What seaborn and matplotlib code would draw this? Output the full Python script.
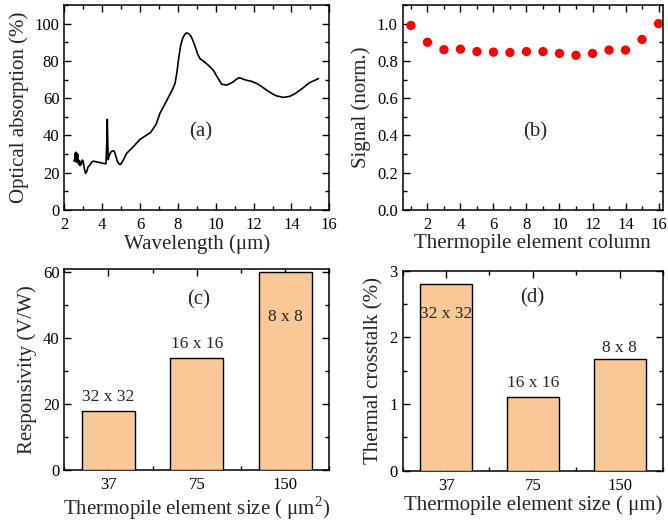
import numpy as np
import pandas as pd
import matplotlib
matplotlib.use("Agg")
import matplotlib.pyplot as plt
import seaborn as sns
from matplotlib.ticker import MultipleLocator

# ---------------- data ----------------
wavelength = [2.51, 2.55, 2.58, 2.6, 2.63, 2.65, 2.68, 2.7, 2.73, 2.76, 2.8, 2.83, 2.87, 2.9,
              2.95, 3.0, 3.06, 3.12, 3.18, 3.25, 3.36, 3.45, 3.53, 3.7, 3.9, 4.05, 4.2, 4.24,
              4.27, 4.29, 4.32, 4.36, 4.45, 4.55, 4.64, 4.72, 4.8, 4.9, 4.97, 5.1, 5.29, 5.6,
              6.0, 6.35, 6.55, 6.7, 6.85, 7.05, 7.4, 7.76, 7.85, 7.95, 8.05, 8.15, 8.25, 8.35,
              8.45, 8.55, 8.65, 8.75, 8.9, 9.05, 9.17, 9.4, 9.6, 9.87, 10.1, 10.31, 10.57,
              10.75, 10.93, 11.1, 11.24, 11.4, 11.63, 11.9, 12.16, 12.4, 12.69, 13.0, 13.2,
              13.57, 13.92, 14.2, 14.45, 14.7, 14.89, 15.1, 15.25, 15.42]
absorption = [26.2, 27.5, 30.5, 26.0, 31.0, 29.5, 25.5, 30.0, 27.0, 24.5, 26.5, 23.8, 25.5, 24.5,
              26.8, 26.0, 22.0, 19.6, 20.5, 23.0, 24.2, 25.8, 26.2, 25.8, 25.4, 25.0, 24.8, 35.0,
              48.6, 38.0, 27.0, 29.0, 31.0, 31.8, 31.5, 29.0, 26.0, 24.6, 24.4, 26.5, 30.4, 33.5,
              37.9, 40.2, 41.5, 43.7, 46.0, 51.8, 58.5, 65.7, 68.0, 74.0, 82.0, 88.5, 92.0, 94.0,
              95.0, 94.7, 93.8, 92.0, 88.0, 83.5, 81.2, 79.5, 77.7, 75.0, 71.0, 67.5, 67.0,
              67.8, 68.75, 70.2, 71.0, 70.4, 69.6, 69.0, 67.9, 66.4, 64.3, 62.3, 61.25,
              60.4, 61.0, 62.5, 64.3, 66.2, 67.9, 69.0, 69.6, 70.5]

columns = list(range(1, 17))
signal = [0.99, 0.90, 0.86, 0.863, 0.85, 0.847, 0.845, 0.85, 0.85, 0.84, 0.83, 0.84,
          0.858, 0.858, 0.915, 1.0]

sizes = ["37", "75", "150"]
responsivity = [18, 34, 60]
crosstalk = [2.8, 1.1, 1.67]
array_labels = ["32 x 32", "16 x 16", "8 x 8"]

# ---------------- style ----------------
sns.set_style("ticks")
plt.rcParams["font.family"] = ["Liberation Serif", "DejaVu Serif"]
plt.rcParams["mathtext.fontset"] = "custom"
plt.rcParams["mathtext.rm"] = "Liberation Serif"
plt.rcParams["axes.linewidth"] = 1.1
plt.rcParams["axes.edgecolor"] = "black"

BAR_COLOR = "#F9C896"
LABEL_FS = 15
TICK_FS = 12

fig = plt.figure(figsize=(6.68, 5.23), dpi=100)
ax_a = fig.add_axes([0.0963, 0.5985, 0.3967, 0.392])
ax_b = fig.add_axes([0.6028, 0.5985, 0.3892, 0.392])
ax_c = fig.add_axes([0.0963, 0.1013, 0.3967, 0.3843])
ax_d = fig.add_axes([0.6028, 0.1000, 0.3897, 0.3824])


def style_ticks(ax):
    ax.tick_params(which="both", direction="in", top=True, right=True,
                   colors="black", labelsize=TICK_FS, width=1.0)
    ax.tick_params(which="major", length=5)
    ax.tick_params(which="minor", length=3)
    ax.tick_params(axis="x", which="major", pad=5)
    for s in ax.spines.values():
        s.set_visible(True)
        s.set_color("black")


# ---- (a) ----
df_a = pd.DataFrame({"wl": wavelength, "abs": absorption})
sns.lineplot(data=df_a, x="wl", y="abs", ax=ax_a, color="black", linewidth=1.2,
             sort=False, estimator=None)
ax_a.set_xlim(2, 16)
ax_a.set_ylim(0, 110)
ax_a.xaxis.set_major_locator(MultipleLocator(2))
ax_a.xaxis.set_minor_locator(MultipleLocator(1))
ax_a.yaxis.set_major_locator(MultipleLocator(20))
ax_a.yaxis.set_minor_locator(MultipleLocator(10))
ax_a.set_xlabel("Wavelength (μm)", fontsize=LABEL_FS, labelpad=1)
ax_a.set_ylabel("Optical absorption (%)", fontsize=LABEL_FS, labelpad=4)
ax_a.text(9.22, 42, "(a)", fontsize=LABEL_FS, ha="center", va="center")
style_ticks(ax_a)

# ---- (b) ----
df_b = pd.DataFrame({"col": columns, "sig": signal})
sns.scatterplot(data=df_b, x="col", y="sig", ax=ax_b, color="#FF0000", s=45,
                edgecolor="none", linewidth=0)
ax_b.set_xlim(0.5, 16.25)
ax_b.set_ylim(0, 1.1)
ax_b.xaxis.set_major_locator(MultipleLocator(2))
ax_b.xaxis.set_minor_locator(MultipleLocator(1))
ax_b.yaxis.set_major_locator(MultipleLocator(0.2))
ax_b.yaxis.set_minor_locator(MultipleLocator(0.1))
ax_b.yaxis.set_major_formatter(matplotlib.ticker.FormatStrFormatter("%.1f"))
ax_b.set_xlabel("Thermopile element column", fontsize=LABEL_FS, labelpad=1)
ax_b.set_ylabel("Signal (norm.)", fontsize=LABEL_FS, labelpad=4)
ax_b.text(8.55, 0.42, "(b)", fontsize=LABEL_FS, ha="center", va="center")
style_ticks(ax_b)

# ---- (c) ----
df_c = pd.DataFrame({"size": sizes, "resp": responsivity})
sns.barplot(data=df_c, x="size", y="resp", order=sizes, ax=ax_c, color=BAR_COLOR,
            saturation=1, width=0.6, edgecolor="black", linewidth=1.0, zorder=3)
ax_c.set_xlim(-0.5, 2.5)
ax_c.set_ylim(0, 61)
ax_c.yaxis.set_major_locator(MultipleLocator(20))
ax_c.yaxis.set_minor_locator(MultipleLocator(10))
ax_c.xaxis.set_minor_locator(MultipleLocator(0.5))
ax_c.set_xlabel("Thermopile element size ( μm$^{2}$)", fontsize=LABEL_FS, labelpad=1)
ax_c.set_ylabel("Responsivity (V/W)", fontsize=LABEL_FS, labelpad=4)
c_label_y = [22.2, 38.1, 46.5]
for i, (lab, yy) in enumerate(zip(array_labels, c_label_y)):
    ax_c.text(i, yy, lab, fontsize=12.5, ha="center", va="center", zorder=5)
ax_c.text(1.02, 51.5, "(c)", fontsize=LABEL_FS, ha="center", va="center")
style_ticks(ax_c)

# ---- (d) ----
df_d = pd.DataFrame({"size": sizes, "xt": crosstalk})
sns.barplot(data=df_d, x="size", y="xt", order=sizes, ax=ax_d, color=BAR_COLOR,
            saturation=1, width=0.6, edgecolor="black", linewidth=1.0, zorder=3)
ax_d.set_xlim(-0.5, 2.5)
ax_d.set_ylim(0, 3)
ax_d.yaxis.set_major_locator(MultipleLocator(1))
ax_d.yaxis.set_minor_locator(MultipleLocator(0.5))
ax_d.xaxis.set_minor_locator(MultipleLocator(0.5))
ax_d.set_xlabel("Thermopile element size ( μm)", fontsize=LABEL_FS, labelpad=1)
ax_d.set_ylabel("Thermal crosstalk (%)", fontsize=LABEL_FS, labelpad=4)
d_label_y = [2.35, 1.32, 1.84]
for i, (lab, yy) in enumerate(zip(array_labels, d_label_y)):
    ax_d.text(i, yy, lab, fontsize=12.5, ha="center", va="center", zorder=5)
ax_d.text(0.99, 2.59, "(d)", fontsize=LABEL_FS, ha="center", va="center")
style_ticks(ax_d)

fig.savefig("out.png", dpi=100)
